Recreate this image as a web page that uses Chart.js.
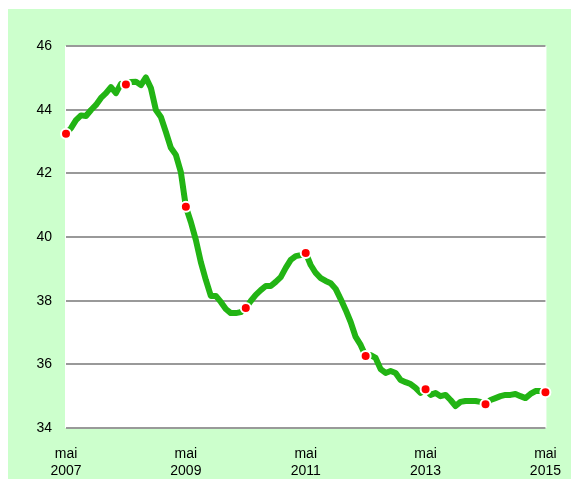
<!DOCTYPE html>
<html>
<head>
<meta charset="utf-8">
<script src="https://cdn.jsdelivr.net/npm/chart.js@4/dist/chart.umd.min.js"></script>
<style>
  body { margin: 0; background: #fff; }
  #box { position: absolute; left: 8px; top: 9px; width: 563px; height: 470px; background: #ccffcc; }
</style>
</head>
<body>
<div id="box"><canvas id="chart" width="563" height="470"></canvas></div>
<script>
// Monthly series, May 2007 .. May 2015
const monthNames = ['mai', 'juin', 'juil', 'août', 'sept', 'oct', 'nov', 'déc', 'janv', 'févr', 'mars', 'avr'];
const startYear = 2007;
const values = [
  43.24, 43.42, 43.67, 43.82, 43.80, 43.99, 44.15, 44.37, 44.52, 44.71, 44.52, 44.81,
  44.79, 44.87, 44.88, 44.77, 45.01, 44.68, 43.99, 43.77, 43.30, 42.80, 42.58, 42.04,
  40.95, 40.47, 39.91, 39.21, 38.65, 38.15, 38.15, 37.96, 37.74, 37.61, 37.61, 37.64,
  37.77, 37.99, 38.18, 38.33, 38.46, 38.46, 38.59, 38.74, 39.03, 39.28, 39.40, 39.43,
  39.50, 39.12, 38.87, 38.71, 38.62, 38.55, 38.37, 38.05, 37.71, 37.33, 36.86, 36.61,
  36.26, 36.29, 36.20, 35.85, 35.73, 35.79, 35.73, 35.51, 35.44, 35.38, 35.26, 35.10,
  35.22, 35.04, 35.10, 35.00, 35.04, 34.88, 34.69, 34.82, 34.85, 34.85, 34.85, 34.82,
  34.75, 34.88, 34.94, 35.00, 35.04, 35.04, 35.07, 35.00, 34.94, 35.07, 35.16, 35.16,
  35.12
];
// x tick labels shown every 24 months
const tickYears = ['2007', '2009', '2011', '2013', '2015'];
// red markers every May
const markerStep = 12;

const categories = values.map((v, i) => {
  const m = i % 12;
  const y = startYear + Math.floor((i + 4) / 12);
  return monthNames[m] + ' ' + y;
});

// white plot background, a bit wider than the data range
const plotBg = {
  id: 'plotBg',
  beforeDraw(chart) {
    const a = chart.chartArea, c = chart.ctx;
    c.save();
    c.fillStyle = '#ffffff';
    c.fillRect(a.left - 1, a.top, a.right - a.left + 2, a.bottom - a.top);
    c.restore();
  }
};

const font = { family: 'Liberation Sans, Arial, sans-serif', size: 14 };

new Chart(document.getElementById('chart').getContext('2d'), {
  type: 'line',
  data: {
    labels: categories,
    datasets: [{
      data: values,
      borderColor: '#22b414',
      borderWidth: 6,
      borderCapStyle: 'round',
      borderJoinStyle: 'round',
      tension: 0,
      pointRadius: ctx => ctx.dataIndex % markerStep === 0 ? 5 : 0,
      pointBackgroundColor: '#ff0000',
      pointBorderColor: '#ffffff',
      pointBorderWidth: 2,
      pointHoverRadius: 0
    }]
  },
  options: {
    responsive: false,
    animation: false,
    layout: { padding: { left: 0, right: 24, top: 37, bottom: 0 } },
    plugins: { legend: { display: false }, tooltip: { enabled: false } },
    scales: {
      x: {
        offset: false,
        grid: { display: false },
        border: { display: false },
        ticks: {
          autoSkip: false,
          maxRotation: 0,
          padding: 10,
          color: '#000',
          font: font,
          callback: (v, i) => i % 24 === 0 ? ['mai', tickYears[i / 24]] : null
        },
        afterFit: s => { s.height = 51; }
      },
      y: {
        min: 34,
        max: 46,
        border: { display: false },
        grid: { color: '#999999', lineWidth: 2, drawTicks: false },
        ticks: { stepSize: 2, padding: 14, color: '#000', font: font },
        afterFit: s => { s.width = 58; }
      }
    }
  },
  plugins: [plotBg]
});
</script>
</body>
</html>
